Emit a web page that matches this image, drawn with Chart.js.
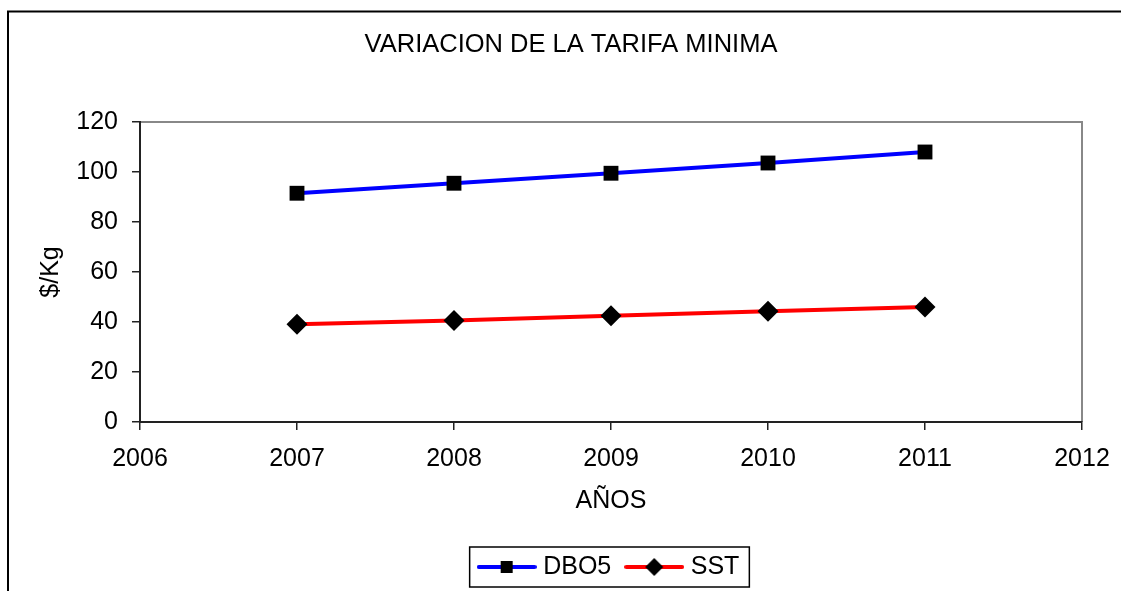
<!DOCTYPE html>
<html>
<head>
<meta charset="utf-8">
<script src="https://cdn.jsdelivr.net/npm/chart.js@4.4.0/dist/chart.umd.min.js"></script>
<style>
  html, body { margin: 0; padding: 0; background: #fff; }
  #wrap { position: relative; width: 1121px; height: 591px; }
</style>
</head>
<body>
<div id="wrap"><canvas id="grafico" width="1121" height="591"></canvas></div>
<script>
// datos
const anios = [2007, 2008, 2009, 2010, 2011];
const dbo5 = [91.5, 95.5, 99.5, 103.6, 108];
const sst = [39.1, 40.6, 42.5, 44.3, 46];
const xMin = 2006, xMax = 2012;
const yMin = 0, yMax = 120, yStep = 20;

const fuente = 'Liberation Sans, Arial, sans-serif';

// icono de leyenda: linea + marcador
function iconoLeyenda(color, forma) {
  const c = document.createElement('canvas');
  c.width = 60; c.height = 24;
  const g = c.getContext('2d');
  g.strokeStyle = color;
  g.lineWidth = 4;
  g.lineCap = 'round';
  g.beginPath(); g.moveTo(2, 12); g.lineTo(58, 12); g.stroke();
  g.fillStyle = '#000';
  if (forma === 'cuadro') {
    g.fillRect(24, 6, 12, 12);
  } else {
    g.beginPath();
    g.moveTo(30, 3); g.lineTo(39, 12); g.lineTo(30, 21); g.lineTo(21, 12);
    g.closePath(); g.fill();
  }
  return c;
}
const iconos = [iconoLeyenda('#0000ff', 'cuadro'), iconoLeyenda('#ff0000', 'rombo')];

// marcos: borde exterior, borde del area de trazado, caja de leyenda
const marcos = {
  id: 'marcos',
  beforeDraw(chart) {
    const ctx = chart.ctx;
    ctx.save();
    ctx.strokeStyle = '#000';
    ctx.lineWidth = 2;
    ctx.beginPath(); ctx.moveTo(8, 591); ctx.lineTo(8, 11.5); ctx.lineTo(1121, 11.5); ctx.stroke();
    const a = chart.chartArea;
    ctx.strokeStyle = '#888';
    ctx.lineWidth = 2;
    ctx.beginPath(); ctx.moveTo(a.left, a.top); ctx.lineTo(a.right, a.top); ctx.lineTo(a.right, a.bottom); ctx.stroke();
    ctx.restore();
  },
  afterDraw(chart) {
    const lg = chart.legend;
    const cajas = lg.legendHitBoxes;
    if (!cajas || !cajas.length) return;
    const ult = cajas[cajas.length - 1];
    const izq = cajas[0].left - 13;
    const der = ult.left + ult.width + 10;
    const cy = lg.top + 19 + 12.5;
    const ctx = chart.ctx;
    ctx.save();
    ctx.strokeStyle = '#000';
    ctx.lineWidth = 1.5;
    ctx.strokeRect(izq, cy - 20, der - izq, 40);
    ctx.restore();
  }
};

new Chart(document.getElementById('grafico'), {
  type: 'line',
  data: {
    datasets: [{
      label: 'DBO5',
      data: anios.map((a, i) => ({x: a, y: dbo5[i]})),
      borderColor: '#0000ff',
      borderWidth: 4,
      pointStyle: 'rect',
      pointRadius: 10.5,
      pointBackgroundColor: '#000',
      pointBorderWidth: 0,
      tension: 0
    }, {
      label: 'SST',
      data: anios.map((a, i) => ({x: a, y: sst[i]})),
      borderColor: '#ff0000',
      borderWidth: 4,
      pointStyle: 'rectRot',
      pointRadius: 10.5,
      pointBackgroundColor: '#000',
      pointBorderWidth: 0,
      tension: 0
    }]
  },
  options: {
    responsive: false,
    animation: false,
    layout: { padding: { left: 60, right: 39, top: 0, bottom: 1.5 } },
    plugins: {
      title: {
        display: true,
        text: 'VARIACION DE LA TARIFA MINIMA',
        color: '#000',
        font: { family: fuente, size: 25.5, weight: 'normal' },
        padding: { top: 29.2, bottom: 62.2 }
      },
      legend: {
        position: 'bottom',
        fullSize: false,
        labels: {
          usePointStyle: true,
          pointStyleWidth: 48,
          padding: 19,
          color: '#000',
          font: { family: fuente, size: 25 },
          generateLabels: chart => chart.data.datasets.map((ds, i) => ({
            text: ds.label,
            pointStyle: iconos[i],
            datasetIndex: i,
            fontColor: '#000',
            hidden: false,
            lineWidth: 0,
            strokeStyle: 'rgba(0,0,0,0)',
            fillStyle: 'rgba(0,0,0,0)'
          }))
        }
      },
      tooltip: { enabled: false }
    },
    scales: {
      x: {
        type: 'linear',
        min: xMin,
        max: xMax,
        afterFit: s => { s.height = 113.5; },
        ticks: {
          stepSize: 1,
          padding: 3,
          color: '#000',
          font: { family: fuente, size: 25, lineHeight: 2.08 },
          callback: v => String(v)
        },
        grid: { drawOnChartArea: false, tickLength: 8, color: '#222', lineWidth: 1.5 },
        border: { color: '#222', width: 2 },
        title: {
          display: true,
          text: 'AÑOS',
          color: '#000',
          font: { family: fuente, size: 25 },
          padding: { top: 0, bottom: 19.5 }
        }
      },
      y: {
        min: yMin,
        max: yMax,
        afterFit: s => { s.width = 80; },
        ticks: {
          stepSize: yStep,
          padding: 14,
          color: '#000',
          font: { family: fuente, size: 25 }
        },
        grid: { drawOnChartArea: false, tickLength: 8, color: '#222', lineWidth: 1.5 },
        border: { color: '#222', width: 2 },
        title: {
          display: true,
          text: '$/Kg',
          color: '#000',
          font: { family: fuente, size: 25 },
          padding: { top: -24, bottom: 0 }
        }
      }
    }
  },
  plugins: [marcos]
});
</script>
</body>
</html>
